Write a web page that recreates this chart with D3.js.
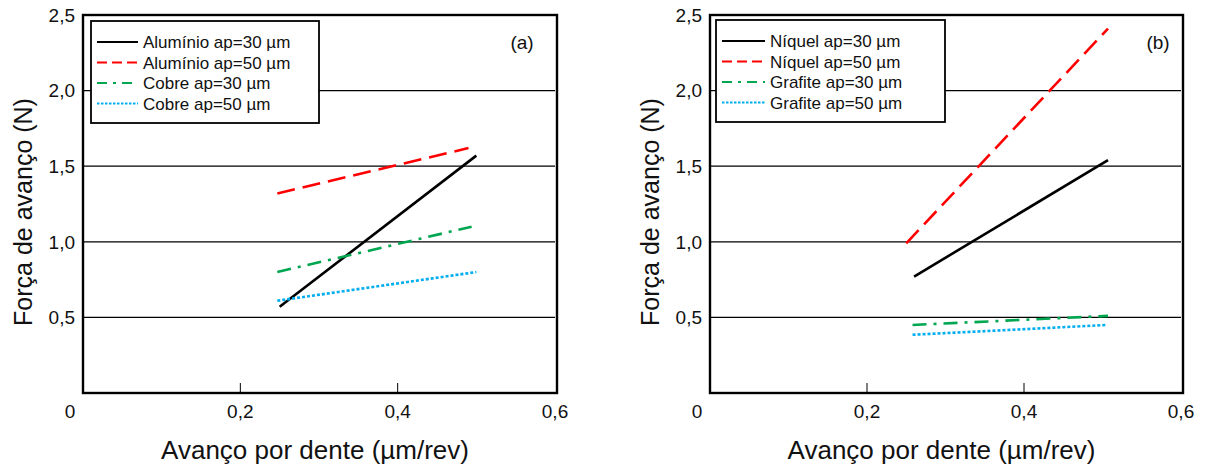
<!DOCTYPE html>
<html>
<head>
<meta charset="utf-8">
<script src="https://cdn.jsdelivr.net/npm/d3@7"></script>
<style>
  body { margin: 0; background: #fff; }
  svg text { font-family: "Liberation Sans", Arial, sans-serif; fill: #111; }
</style>
</head>
<body>
<svg id="chart" width="1208" height="470"></svg>
<script>
// Feed per tooth (start / end of each fitted line)
const feedA = [[0.25, 0.50], [0.247, 0.49], [0.247, 0.494], [0.247, 0.50]];
const feedB = [[0.26, 0.507], [0.25, 0.507], [0.258, 0.507], [0.258, 0.506]];

// Feed force values (N) at those feeds
const forceAluminio30 = [0.57, 1.57];
const forceAluminio50 = [1.32, 1.62];
const forceCobre30 = [0.80, 1.10];
const forceCobre50 = [0.61, 0.80];
const forceNiquel30 = [0.77, 1.54];
const forceNiquel50 = [0.99, 2.41];
const forceGrafite30 = [0.45, 0.51];
const forceGrafite50 = [0.385, 0.45];

const seriesNamesA = ["Alumínio ap=30 µm", "Alumínio ap=50 µm", "Cobre ap=30 µm", "Cobre ap=50 µm"];
const seriesNamesB = ["Níquel ap=30 µm", "Níquel ap=50 µm", "Grafite ap=30 µm", "Grafite ap=50 µm"];

const xTicks = [0, 0.2, 0.4, 0.6];
const yTicks = [0.5, 1.0, 1.5, 2.0, 2.5];
const xTitle = "Avanço por dente (µm/rev)";
const yTitle = "Força de avanço (N)";

const styles = [
  { color: "#000000", dash: null, legendDash: null },
  { color: "#ff0000", dash: "18,8", legendDash: "10,5" },
  { color: "#00a650", dash: "14,7,3,7", legendDash: "10,6,3,6" },
  { color: "#00aeef", dash: "3,2", legendDash: "2.5,1.5" }
];

const fmt = v => v === 0 ? "0" : d3.format(".1f")(v).replace(".", ",");
const svg = d3.select("#chart");

function panel(opts) {
  const x = d3.scaleLinear().domain([0, 0.6]).range(opts.xRange);
  const y = d3.scaleLinear().domain([0, 2.5]).range([393, 15]);
  const g = svg.append("g");

  // horizontal gridlines
  g.selectAll("line.grid").data(yTicks.filter(t => t < 2.5)).join("line")
    .attr("x1", x(0)).attr("x2", x(0.6))
    .attr("y1", d => y(d)).attr("y2", d => y(d))
    .attr("stroke", "#000").attr("stroke-width", 1.2);

  // x tick marks along the bottom edge
  g.selectAll("line.xtick").data([0.2, 0.4]).join("line")
    .attr("x1", d => x(d)).attr("x2", d => x(d))
    .attr("y1", y(0)).attr("y2", y(0) - 10)
    .attr("stroke", "#000").attr("stroke-width", 1);

  // y tick labels
  g.selectAll("text.ylab").data(yTicks).join("text")
    .attr("x", x(0) - 8).attr("y", d => y(d))
    .attr("dy", "0.36em").attr("text-anchor", "end")
    .attr("font-size", 19).text(fmt);

  // x tick labels
  g.selectAll("text.xlab").data(xTicks).join("text")
    .attr("x", d => d === 0 ? x(d) - 13 : x(d))
    .attr("y", 418).attr("text-anchor", "middle")
    .attr("font-size", 19).text(fmt);

  // axis titles
  g.append("text")
    .attr("x", (x(0) + x(0.6)) / 2 - 4).attr("y", 459)
    .attr("text-anchor", "middle").attr("font-size", 26).text(xTitle);
  g.append("text")
    .attr("transform", `translate(${x(0) - 51},${(y(0) + y(2.5)) / 2 + 8}) rotate(-90)`)
    .attr("text-anchor", "middle").attr("font-size", 25).text(yTitle);

  // data lines
  const line = d3.line().x(d => x(d[0])).y(d => y(d[1]));
  opts.series.forEach((s, i) => {
    const pts = s.feed.map((f, k) => [f, s.force[k]]);
    g.append("path").attr("d", line(pts))
      .attr("fill", "none").attr("stroke", styles[i].color)
      .attr("stroke-width", 2.6)
      .attr("stroke-dasharray", styles[i].dash);
  });

  // legend
  const lg = g.append("g").attr("transform", `translate(${opts.legend[0]},${opts.legend[1]})`);
  lg.append("rect").attr("width", opts.legend[2]).attr("height", 102)
    .attr("fill", "#fff").attr("stroke", "#000").attr("stroke-width", 1.8);
  opts.names.forEach((n, i) => {
    const yy = 21 + i * 20.5;
    lg.append("line").attr("x1", 6).attr("x2", opts.sample).attr("y1", yy).attr("y2", yy)
      .attr("stroke", styles[i].color).attr("stroke-width", 2.2)
      .attr("stroke-dasharray", styles[i].legendDash);
    lg.append("text").attr("x", opts.sample + 5).attr("y", yy).attr("dy", "0.36em")
      .attr("font-size", 17).text(n);
  });

  // panel tag
  g.append("text").attr("x", opts.tag[0]).attr("y", opts.tag[1]).attr("dy", "0.36em")
    .attr("text-anchor", "middle").attr("font-size", 19).text(opts.tagText);

  // frame
  g.append("rect").attr("x", x(0)).attr("y", y(2.5))
    .attr("width", x(0.6) - x(0) + 2).attr("height", y(0) - y(2.5))
    .attr("fill", "none").attr("stroke", "#000").attr("stroke-width", 2.4);
}

panel({
  xRange: [83, 555],
  names: seriesNamesA,
  series: [
    { feed: feedA[0], force: forceAluminio30 },
    { feed: feedA[1], force: forceAluminio50 },
    { feed: feedA[2], force: forceCobre30 },
    { feed: feedA[3], force: forceCobre50 }
  ],
  legend: [91, 21, 228],
  sample: 47,
  tag: [522, 42],
  tagText: "(a)"
});

panel({
  xRange: [710, 1181],
  names: seriesNamesB,
  series: [
    { feed: feedB[0], force: forceNiquel30 },
    { feed: feedB[1], force: forceNiquel50 },
    { feed: feedB[2], force: forceGrafite30 },
    { feed: feedB[3], force: forceGrafite50 }
  ],
  legend: [716, 20, 229],
  sample: 49,
  tag: [1158, 42],
  tagText: "(b)"
});
</script>
</body>
</html>
